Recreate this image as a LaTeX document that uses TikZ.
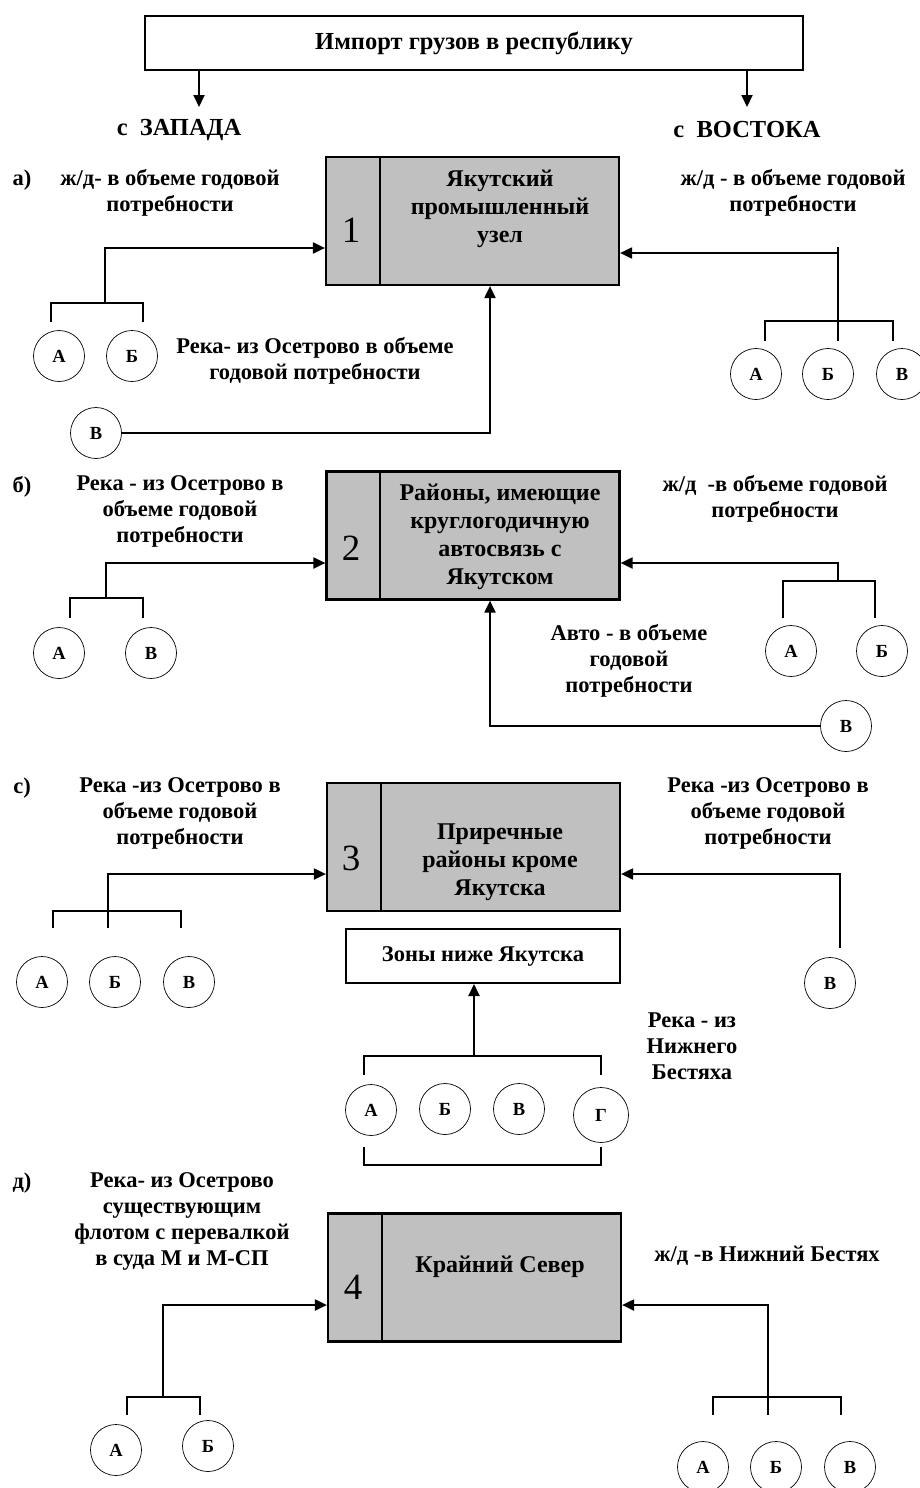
\documentclass[tikz,border=0pt]{standalone}
\usepackage{fontspec}
\setmainfont{Liberation Serif}
\usetikzlibrary{arrows.meta}
\definecolor{boxfill}{RGB}{192,192,192}
\newcommand{\lblfont}{\fontsize{22.5}{26}\selectfont\bfseries}
\newcommand{\headfont}{\fontsize{24.5}{28}\selectfont\bfseries}
\tikzstyle{block} = [rectangle, draw, fill=boxfill, line width=2.2pt, inner sep=0pt,
    minimum width=293pt, minimum height=128pt]
\tikzstyle{frame} = [rectangle, draw, line width=2pt, inner sep=0pt, font=\headfont]
\tikzstyle{station} = [circle, draw, line width=0.7pt, minimum size=51pt, inner sep=0pt,
    font=\fontsize{18.5}{20}\selectfont\bfseries]
\tikzstyle{lbl} = [align=center, font=\lblfont]
\tikzstyle{head} = [font=\headfont]
\tikzstyle{btxt} = [align=center, font=\fontsize{24}{28}\selectfont\bfseries]
\tikzstyle{num} = [font=\fontsize{37}{40}\selectfont]
\tikzstyle{line} = [draw, line width=2pt]
\tikzstyle{arrow} = [draw, line width=2pt, -{Triangle[length=12pt,width=11pt]}]

\begin{document}
\begin{tikzpicture}[x=1pt,y=-1pt]
  \useasboundingbox (0,0) rectangle (919,1488);
  % nodes
  \node [frame, minimum width=658pt, minimum height=54pt](top) at (474,43) {Импорт грузов в республику};
  \node [head](west) at (179,130) {с\enspace ЗАПАДА};
  \node [head](east) at (747,130) {с\enspace ВОСТОКА};

  % a)
  \node [lbl](a) at (22,180) {а)};
  \node [lbl](aLW) at (170,193) {ж/д- в объеме годовой\\потребности};
  \node [lbl](aLE) at (793,193) {ж/д - в объеме годовой\\потребности};
  \node [lbl](aLS) at (315,361) {Река- из Осетрово в объеме\\годовой потребности};
  \node [block](box1) at (472.5,221) {};
  \node [num](n1) at (351,230) {1};
  \node [btxt](t1) at (500,209) {Якутский\\промышленный\\узел};
  \node [station](aWA) at (59,356) {А};
  \node [station](aWB) at (132,356) {Б};
  \node [station](aWC) at (96,433) {В};
  \node [station](aEA) at (756,374) {А};
  \node [station](aEB) at (828,374) {Б};
  \node [station](aEC) at (902,374) {В};

  % б)
  \node [lbl](b) at (22,487) {б)};
  \node [lbl](bLW) at (180,511) {Река - из Осетрово в\\объеме годовой\\потребности};
  \node [lbl](bLE) at (775,499) {ж/д\enspace -в объеме годовой\\потребности};
  \node [lbl](bLS) at (629,661) {Авто - в объеме\\годовой\\потребности};
  \node [block](box2) at (473,535.5) {};
  \node [num](n2) at (351,548) {2};
  \node [btxt](t2) at (500,536.5) {Районы, имеющие\\круглогодичную\\автосвязь с\\Якутском};
  \node [station](bWA) at (59,653) {А};
  \node [station](bWC) at (151,653) {В};
  \node [station](bEA) at (791,651) {А};
  \node [station](bEB) at (882,651) {Б};
  \node [station](bEC) at (846,726) {В};

  % c)
  \node [lbl](c) at (22,788) {с)};
  \node [lbl](cLW) at (180,813) {Река -из Осетрово в\\объеме годовой\\потребности};
  \node [lbl](cLE) at (768,813) {Река -из Осетрово в\\объеме годовой\\потребности};
  \node [lbl](cLZ) at (692,1046) {Река - из\\Нижнего\\Бестяха};
  \node [block](box3) at (473.5,847) {};
  \node [num](n3) at (351,858) {3};
  \node [btxt](t3) at (500,862) {Приречные\\районы кроме\\Якутска};
  \node [frame, font=\lblfont, minimum width=274pt, minimum height=54pt](zone) at (483,956) {Зоны ниже Якутска};
  \node [station](cWA) at (42,982) {А};
  \node [station](cWB) at (115,982) {Б};
  \node [station](cWC) at (189,982) {В};
  \node [station](cEC) at (830,983) {В};
  \node [station](cZA) at (371,1110) {А};
  \node [station](cZB) at (445,1109) {Б};
  \node [station](cZC) at (519,1109) {В};
  \node [station, minimum size=55pt](cZD) at (601,1115) {Г};

  % d)
  \node [lbl](d) at (22,1183) {д)};
  \node [lbl](dLW) at (182,1221) {Река- из Осетрово\\существующим\\флотом с перевалкой\\в суда М и М-СП};
  \node [lbl](dLE) at (767,1256) {ж/д -в Нижний Бестях};
  \node [block](box4) at (474.5,1277.5) {};
  \node [num](n4) at (353,1287) {4};
  \node [btxt](t4) at (500,1267) {Крайний Север};
  \node [station](dWA) at (116,1450) {А};
  \node [station](dWB) at (208,1446) {Б};
  \node [station](dEA) at (703,1467) {А};
  \node [station](dEB) at (776,1467) {Б};
  \node [station](dEC) at (850,1467) {В};

  % bracket points
  \coordinate (aWa) at (51,322);  \coordinate (aWb) at (143,322); \coordinate (aJW) at (105,303);
  \coordinate (aEa) at (765,341); \coordinate (aEc) at (893,341); \coordinate (aJE) at (838,321);
  \coordinate (aEb) at (838,341); \coordinate (aEt) at (838,247);
  \coordinate (bWa) at (70,618);  \coordinate (bWc) at (143,618); \coordinate (bJW) at (106,598);
  \coordinate (bEa) at (783,618); \coordinate (bEb) at (875,618); \coordinate (bJE) at (838,581);
  \coordinate (cWa) at (53,928);  \coordinate (cWc) at (181,928); \coordinate (cJW) at (108,911);
  \coordinate (cWb) at (108,928); \coordinate (cEt) at (840,948);
  \coordinate (cZa) at (364,1075); \coordinate (cZd) at (601,1075); \coordinate (cJZ) at (474,1056);
  \coordinate (cYa) at (364,1147); \coordinate (cYd) at (601,1147); \coordinate (cJY) at (480,1165);
  \coordinate (dWa) at (127,1415); \coordinate (dWb) at (200,1415); \coordinate (dJW) at (163,1397);
  \coordinate (dEa) at (713,1415); \coordinate (dEc) at (841,1415); \coordinate (dJE) at (768,1397);
  \coordinate (dEb) at (768,1415);

  % edges
  \foreach \b in {box1,box2,box3,box4}
    \path [line] ([xshift=55pt]\b.north west) -- ([xshift=55pt]\b.south west);
  \path [arrow] ([xshift=-275pt]top.south) -- ++(0,36);
  \path [arrow] ([xshift=273pt]top.south) -- ++(0,36);

  \path [line] (aWa) |- (aJW) -| (aWb);
  \path [arrow] (aJW) |- ([yshift=-27pt]box1.west);
  \path [line] (aEa) |- (aJE) -| (aEc);
  \path [line] (aEb) -- (aEt);
  \path [arrow] (aEb) |- ([yshift=-32pt]box1.east);
  \path [arrow] (aWC) -| ([xshift=17.5pt]box1.south);

  \path [line] (bWa) |- (bJW) -| (bWc);
  \path [arrow] (bJW) |- ([yshift=-27.5pt]box2.west);
  \path [line] (bEa) |- (bJE) -| (bEb);
  \path [arrow] (bJE) |- ([yshift=-27.5pt]box2.east);
  \path [arrow] (bEC) -| ([xshift=17pt]box2.south);

  \path [line] (cWa) |- (cJW) -| (cWc);
  \path [arrow] (cWb) |- ([yshift=-27pt]box3.west);
  \path [arrow] (cEt) |- ([yshift=-27pt]box3.east);
  \path [line] (cZa) |- (cJZ) -| (cZd);
  \path [arrow] (cJZ) -- (cJZ |- zone.south);
  \path [line] (cYa) |- (cJY) -| (cYd);

  \path [line] (dWa) |- (dJW) -| (dWb);
  \path [arrow] (dJW) |- ([yshift=-27.5pt]box4.west);
  \path [line] (dEa) |- (dJE) -| (dEc);
  \path [arrow] (dEb) |- ([yshift=-27.5pt]box4.east);
\end{tikzpicture}
\end{document}
